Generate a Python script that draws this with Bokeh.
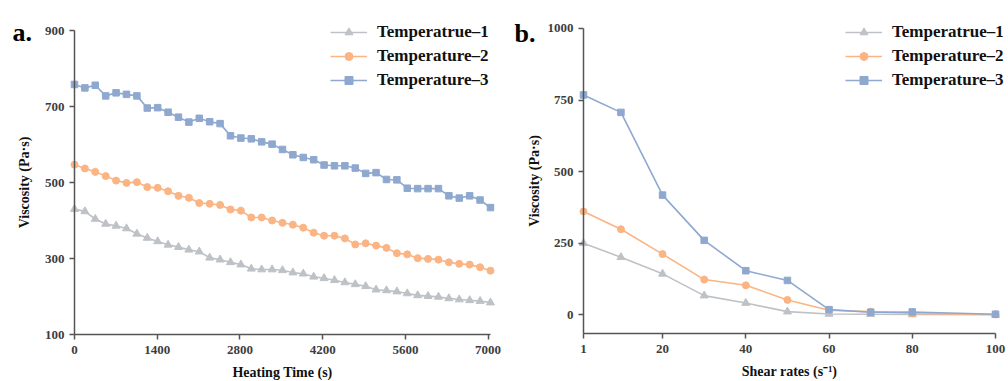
from bokeh.plotting import figure
from bokeh.layouts import row
from bokeh.models import Legend, LegendItem, Label, Range1d, FixedTicker
from bokeh.embed import file_html
from bokeh.resources import INLINE

# ---------------- data ----------------
heating_time = [0, 176, 352, 528, 704, 880, 1056, 1232, 1408, 1584, 1760, 1936, 2112, 2288,
                2464, 2640, 2816, 2992, 3168, 3344, 3520, 3696, 3872, 4048, 4224, 4400, 4576,
                4752, 4928, 5104, 5280, 5456, 5632, 5808, 5984, 6160, 6336, 6512, 6688, 6864, 7040]
a_temp1 = [430, 424, 404, 391, 386, 379, 365, 354, 345, 336, 330, 323, 318, 302, 297, 290, 284,
           273, 271, 271, 269, 263, 260, 252, 248, 243, 237, 232, 227, 218, 216, 213, 208, 203,
           201, 199, 195, 192, 190, 188, 184]
a_temp2 = [547, 537, 528, 517, 505, 499, 501, 488, 486, 477, 465, 460, 446, 444, 441, 429, 426,
           408, 408, 400, 394, 389, 381, 368, 360, 360, 353, 337, 340, 334, 328, 314, 311, 301,
           299, 297, 290, 286, 284, 277, 268]
a_temp3 = [758, 749, 756, 728, 736, 732, 728, 696, 697, 685, 672, 659, 669, 660, 655, 623, 617,
           615, 607, 601, 587, 573, 566, 560, 546, 544, 544, 538, 524, 526, 508, 507, 485, 484,
           484, 484, 465, 459, 465, 454, 434]

shear_rate = [1, 10, 20, 30, 40, 50, 60, 70, 80, 100]
b_temp1 = [250, 201, 143, 67, 41, 11, 3, 2, 1, 0]
b_temp2 = [361, 299, 212, 123, 103, 52, 16, 11, 5, 1]
b_temp3 = [768, 707, 418, 260, 154, 120, 18, 9, 10, 2]

series_names = ["Temperatrue\u20131", "Temperature\u20132", "Temperature\u20133"]
a_xticks = [0, 1400, 2800, 4200, 5600, 7000]
a_yticks = [100, 300, 500, 700, 900]
b_xticks = [1, 20, 40, 60, 80, 100]
b_yticks = [0, 250, 500, 750, 1000]

# ---------------- style ----------------
COLORS = ["#BEC2C7", "#FBB483", "#8EA8CF"]
MARKERS = ["triangle", "circle", "square"]
MSIZE = [8, 7, 6.5]
FONT = "Liberation Serif"
AXIS_C = "#555555"
H = 380


def make_fig(width, xr, yr):
    p = figure(width=width, height=H, x_range=xr, y_range=yr, title=None,
               min_border_left=0, min_border_right=0, min_border_top=0, min_border_bottom=0,
               output_backend="svg", toolbar_location=None)
    p.xgrid.visible = False
    p.ygrid.visible = False
    p.outline_line_color = None
    return p


def style_axes(p, xticks, yticks, xbounds, ybounds, ylab_standoff):
    for ax in (p.xaxis[0], p.yaxis[0]):
        ax.axis_line_color = AXIS_C
        ax.axis_line_width = 1.5
        ax.major_tick_line_color = AXIS_C
        ax.major_tick_line_width = 1.5
        ax.major_tick_out = 5
        ax.major_tick_in = 0
        ax.minor_tick_out = 0
        ax.minor_tick_in = 0
        ax.major_label_text_font = FONT
        ax.major_label_text_font_style = "bold"
        ax.major_label_text_font_size = "13px"
        ax.major_label_text_color = "#3d3d3d"
        ax.axis_label_text_font = FONT
        ax.axis_label_text_font_style = "bold"
        ax.axis_label_text_font_size = "14px"
        ax.axis_label_text_color = "#111111"
    p.xaxis[0].ticker = FixedTicker(ticks=xticks)
    p.yaxis[0].ticker = FixedTicker(ticks=yticks)
    p.xaxis[0].bounds = xbounds
    p.yaxis[0].bounds = ybounds
    p.xaxis[0].fixed_location = ybounds[0]
    p.yaxis[0].fixed_location = xbounds[0]
    p.xaxis[0].major_label_standoff = 6
    p.yaxis[0].major_label_standoff = 5
    p.xaxis[0].axis_label_standoff = 8
    p.yaxis[0].axis_label = "Viscosity (Pa\u00b7s)"
    p.yaxis[0].axis_label_standoff = ylab_standoff


def add_series(p, x, ys):
    items = []
    for y, c, m, s, name in zip(ys, COLORS, MARKERS, MSIZE, series_names):
        lr = p.line(x, y, line_color=c, line_width=1.6)
        sr = p.scatter(x, y, marker=m, size=s, fill_color=c, line_color=c)
        items.append(LegendItem(label=name, renderers=[lr, sr]))
    return items


def add_legend(p, items, loc):
    leg = Legend(items=items, location=loc, orientation="vertical",
                 label_text_font=FONT, label_text_font_style="bold",
                 label_text_font_size="17px", label_text_color="#111111",
                 glyph_width=37, glyph_height=20, label_height=20, spacing=4,
                 label_standoff=10, padding=0, margin=0,
                 border_line_alpha=0, background_fill_alpha=0)
    p.add_layout(leg, "center")


def add_letter(p, text, x, y):
    p.add_layout(Label(x=x, y=y, x_units="screen", y_units="screen", text=text,
                       text_align="left", text_baseline="alphabetic", text_font=FONT,
                       text_font_style="bold", text_font_size="26px", text_color="#000000"))


# ---------------- panel a ----------------
pa = make_fig(508, Range1d(-1252, 7345), Range1d(-21, 979))
style_axes(pa, a_xticks, a_yticks, (0, 7040), (100, 900), 10)
pa.xaxis[0].axis_label = "Heating Time (s)"
items_a = add_series(pa, heating_time, [a_temp1, a_temp2, a_temp3])
add_legend(pa, items_a, (330, 290))
add_letter(pa, "a.", 12, H - 32)

# ---------------- panel b ----------------
pb = make_fig(498, Range1d(-17.02, 102.64), Range1d(-229.5, 1097.8))
style_axes(pb, b_xticks, b_yticks, (1, 100), (-66, 1000), 3)
pb.xaxis[0].axis_label = "Shear rates (s\u207b\u00b9)"
items_b = add_series(pb, shear_rate, [b_temp1, b_temp2, b_temp3])
add_legend(pb, items_b, (337, 290))
add_letter(pb, "b.", 6, H - 33)

layout = row(pa, pb)
open("out.html", "w").write(file_html(layout, INLINE))
